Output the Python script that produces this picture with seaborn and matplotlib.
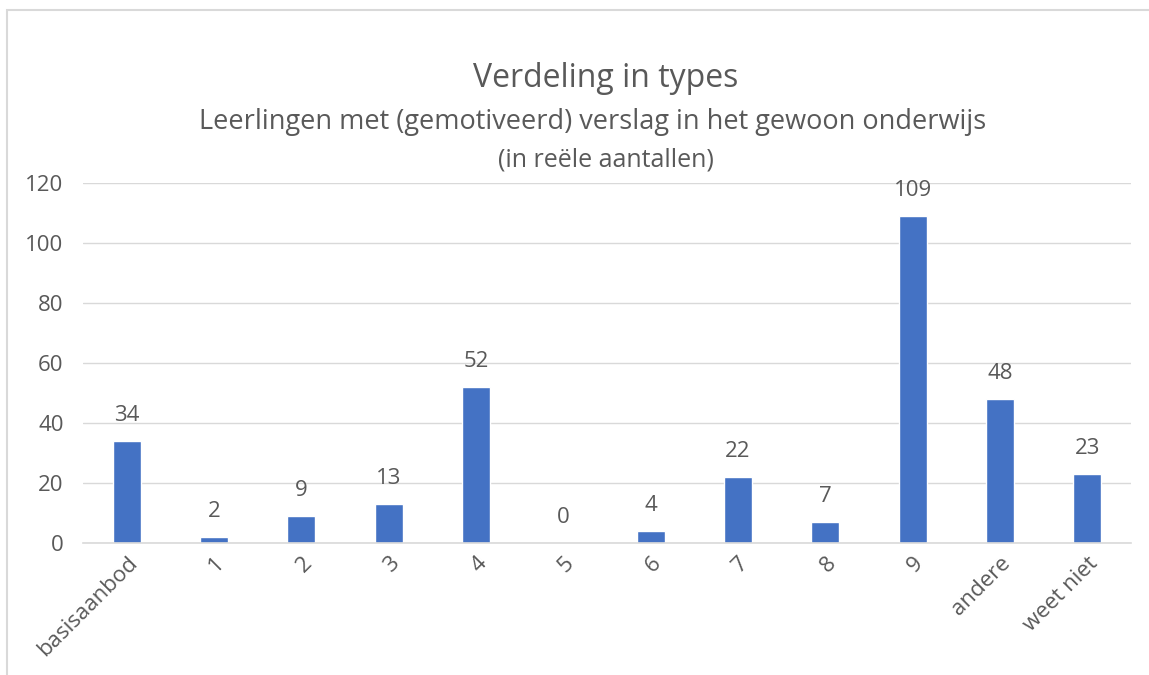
import matplotlib
matplotlib.use("Agg")
import matplotlib.pyplot as plt
import seaborn as sns
import pandas as pd
from matplotlib.patches import Rectangle

# ==========================================
# Data
# ==========================================

types = ["basisaanbod", "1", "2", "3", "4", "5", "6", "7", "8", "9",
         "andere", "weet niet"]
counts = [34, 2, 9, 13, 52, 0, 4, 22, 7, 109, 48, 23]

df = pd.DataFrame({"Type": types, "Aantal": counts})

# ==========================================
# Style
# ==========================================

sns.set_style("white")
plt.rcParams["font.family"] = ["Open Sans", "DejaVu Sans"]

text_color = "#595959"
bar_color = "#4472C4"

fig = plt.figure(figsize=(11.49, 6.75), dpi=100)
ax = fig.add_axes([0.0722, 0.1956, 0.9121, 0.5333])

sns.barplot(
    data=df,
    x="Type",
    y="Aantal",
    color=bar_color,
    width=0.32,
    saturation=1,
    ax=ax
)

ax.set_ylim(0, 120)
ax.set_yticks(range(0, 121, 20))
ax.set_xlim(-0.5, len(types) - 0.5)
ax.yaxis.grid(True, color="#D9D9D9", linewidth=1)
ax.set_axisbelow(True)

for side in ["top", "right", "left"]:
    ax.spines[side].set_visible(False)
ax.spines["bottom"].set_color("#D9D9D9")
ax.spines["bottom"].set_linewidth(1.2)

ax.set_xlabel("")
ax.set_ylabel("")
ax.tick_params(axis="both", length=0, labelsize=16, colors=text_color, pad=7)
ax.tick_params(axis="y", pad=14)
plt.setp(ax.get_xticklabels(), rotation=45, ha="right",
         rotation_mode="anchor")

# value labels
for i, v in enumerate(counts):
    ax.annotate(str(v), (i, v), xytext=(0, 11), textcoords="offset points",
                ha="center", va="bottom", fontsize=16, color=text_color)

# titles
fig.text(0.527, 0.884, "Verdeling in types", ha="center", va="center",
         fontsize=23, color=text_color)
fig.text(0.516, 0.819, "Leerlingen met (gemotiveerd) verslag in het gewoon onderwijs",
         ha="center", va="center", fontsize=19.5, color=text_color)
fig.text(0.527, 0.763, "(in reële aantallen)", ha="center", va="center",
         fontsize=18, color=text_color)

# chart border
fig.patches.append(Rectangle((7 / 1149, -0.05), 1.2, 1 - 10 / 675 + 0.05,
                             transform=fig.transFigure, fill=False,
                             edgecolor="#D9D9D9", linewidth=1.5))

plt.savefig("out.png", dpi=100)
